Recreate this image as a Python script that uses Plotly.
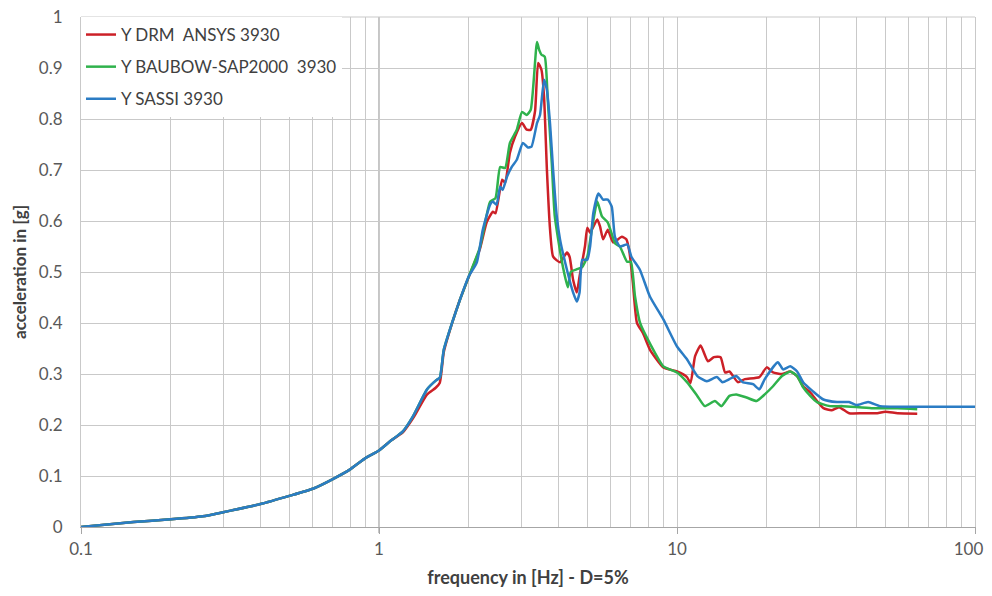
import plotly.graph_objects as go

# ---------------- data ----------------
freq_drm = [0.1, 0.15, 0.2, 0.256, 0.3, 0.4, 0.5, 0.6, 0.7, 0.8, 0.9, 1.0, 1.1, 1.2, 1.3, 1.45,
            1.55, 1.6, 1.65, 1.76, 1.87, 2.0, 2.18, 2.3, 2.41, 2.46, 2.59, 2.65, 2.75, 2.86,
            3.02, 3.13, 3.23, 3.34, 3.42, 3.51, 3.58, 3.66, 3.75, 3.84, 4.05, 4.27, 4.36,
            4.48, 4.61, 4.71, 4.91, 5.0, 5.11, 5.4, 5.52, 5.65, 5.86, 6.1, 6.53, 6.76, 6.93,
            7.11, 7.34, 7.69, 8.11, 9.0, 10.0, 10.8, 11.1, 11.5, 12.0, 12.7, 13.3, 14.0, 14.5,
            15.0, 16.0, 16.9, 18.9, 20.0, 21.0, 22.5, 24.0, 25.3, 26.5, 28.0, 29.5, 31.0,
            33.0, 35.0, 37.8, 42.0, 47.0, 50.0, 55.0, 64.0]
acc_drm = [0.0, 0.01, 0.015, 0.021, 0.029, 0.045, 0.061, 0.075, 0.094, 0.113, 0.135, 0.15, 0.17,
           0.185, 0.213, 0.26, 0.273, 0.283, 0.343, 0.40, 0.446, 0.49, 0.545, 0.598, 0.618,
           0.615, 0.681, 0.675, 0.734, 0.765, 0.792, 0.779, 0.779, 0.816, 0.91, 0.896, 0.843,
           0.70, 0.583, 0.53, 0.519, 0.538, 0.53, 0.485, 0.46, 0.491, 0.55, 0.587, 0.577,
           0.603, 0.589, 0.564, 0.583, 0.558, 0.569, 0.564, 0.538, 0.479, 0.40, 0.38, 0.348,
           0.313, 0.305, 0.294, 0.282, 0.335, 0.356, 0.325, 0.333, 0.333, 0.303, 0.305,
           0.284, 0.29, 0.294, 0.313, 0.303, 0.30, 0.305, 0.296, 0.276, 0.264, 0.247, 0.233,
           0.229, 0.235, 0.223, 0.223, 0.223, 0.226, 0.223, 0.222]

freq_baubow = [0.1, 0.15, 0.2, 0.256, 0.3, 0.4, 0.5, 0.6, 0.7, 0.8, 0.9, 1.0, 1.1, 1.2, 1.3, 1.45,
               1.55, 1.6, 1.65, 1.76, 1.87, 2.0, 2.18, 2.36, 2.46, 2.55, 2.65, 2.75, 2.9, 3.02,
               3.13, 3.23, 3.39, 3.45, 3.51, 3.6, 3.68, 3.8, 3.89, 4.11, 4.3, 4.4, 4.6, 4.81,
               5.0, 5.2, 5.4, 5.6, 5.86, 6.2, 6.43, 6.8, 7.0, 7.23, 7.52, 8.11, 9.0, 10.0, 10.8,
               11.7, 12.4, 13.4, 14.1, 15.0, 15.8, 17.1, 18.5, 19.7, 21.0, 22.5, 24.0, 25.3,
               26.5, 28.0, 29.5, 32.6, 36.0, 45.0, 55.0, 64.0]
acc_baubow = [0.0, 0.01, 0.015, 0.021, 0.029, 0.045, 0.061, 0.075, 0.094, 0.113, 0.135, 0.15,
              0.17, 0.187, 0.217, 0.27, 0.287, 0.293, 0.348, 0.401, 0.446, 0.491, 0.548, 0.638,
              0.645, 0.706, 0.704, 0.753, 0.779, 0.814, 0.808, 0.818, 0.951, 0.935, 0.926,
              0.922, 0.843, 0.714, 0.609, 0.52, 0.47, 0.50, 0.505, 0.51, 0.53, 0.59, 0.638,
              0.609, 0.597, 0.556, 0.55, 0.52, 0.52, 0.452, 0.40, 0.36, 0.315, 0.303, 0.284,
              0.257, 0.237, 0.247, 0.237, 0.257, 0.26, 0.254, 0.247, 0.26, 0.276, 0.296, 0.305,
              0.296, 0.274, 0.257, 0.245, 0.237, 0.237, 0.233, 0.233, 0.231]

freq_sassi = [0.1, 0.15, 0.2, 0.256, 0.3, 0.4, 0.5, 0.6, 0.7, 0.8, 0.9, 1.0, 1.1, 1.2, 1.3, 1.45,
              1.55, 1.6, 1.65, 1.76, 1.87, 2.0, 2.13, 2.23, 2.36, 2.41, 2.48, 2.55, 2.6, 2.69,
              2.79, 2.9, 3.04, 3.16, 3.25, 3.39, 3.47, 3.58, 3.66, 3.75, 3.84, 3.95, 4.05, 4.27,
              4.48, 4.61, 4.71, 4.81, 5.0, 5.11, 5.24, 5.45, 5.65, 5.86, 6.04, 6.19, 6.43, 6.81,
              7.03, 7.5, 8.11, 9.0, 10.0, 10.8, 11.7, 12.6, 13.6, 14.2, 15.0, 15.8, 16.6, 18.0,
              18.9, 19.7, 21.8, 22.7, 24.0, 25.3, 26.5, 28.6, 31.0, 34.4, 37.8, 40.0, 43.8,
              48.0, 60.0, 80.0, 100.0]
acc_sassi = [0.0, 0.01, 0.015, 0.021, 0.029, 0.045, 0.061, 0.075, 0.094, 0.113, 0.135, 0.15,
             0.17, 0.187, 0.217, 0.27, 0.287, 0.293, 0.348, 0.401, 0.446, 0.491, 0.519, 0.583,
             0.632, 0.638, 0.632, 0.667, 0.661, 0.687, 0.706, 0.72, 0.753, 0.744, 0.746, 0.792,
             0.808, 0.877, 0.857, 0.79, 0.70, 0.609, 0.564, 0.505, 0.46, 0.442, 0.46, 0.524,
             0.524, 0.55, 0.616, 0.654, 0.642, 0.642, 0.628, 0.569, 0.55, 0.554, 0.53, 0.505,
             0.452, 0.407, 0.354, 0.329, 0.296, 0.286, 0.294, 0.284, 0.29, 0.296, 0.284, 0.28,
             0.27, 0.29, 0.323, 0.309, 0.315, 0.305, 0.284, 0.266, 0.25, 0.245, 0.245, 0.239,
             0.245, 0.237, 0.236, 0.236, 0.236]

series_names = ["Y DRM\u00a0 ANSYS 3930", "Y BAUBOW-SAP2000\u00a0 3930", "Y SASSI 3930"]
series_colors = ["#cc2027", "#2fb24c", "#2b7cc4"]

x_major_ticks = [0.1, 1, 10, 100]
# trailing no-break spaces nudge the last label left so it stays inside the page
x_tick_labels = ["0.1", "1", "10", "100\u00a0\u00a0\u00a0"]
x_minor_ticks = [0.2, 0.3, 0.4, 0.5, 0.6, 0.7, 0.8, 0.9, 2, 3, 4, 5, 6, 7, 8, 9,
                 20, 30, 40, 50, 60, 70, 80, 90]

# ---------------- figure ----------------
fig = go.Figure()
for name, fx, ay, col in zip(series_names,
                             [freq_drm, freq_baubow, freq_sassi],
                             [acc_drm, acc_baubow, acc_sassi],
                             series_colors):
    fig.add_trace(go.Scatter(x=fx, y=ay, mode="lines", name=name, legendgroup=name,
                             line=dict(color=col, width=2.5, shape="spline", smoothing=0.5)))

grid = "#c9c9c9"
font_family = "Lato, 'Open Sans', sans-serif"
tick_color = "#595959"

# the page body has an 8px margin, so the figure is sized/offset to compensate
fig.update_layout(
    width=984, height=580,
    margin=dict(l=73, r=17, t=9, b=61),
    paper_bgcolor="white", plot_bgcolor="white",
    font=dict(family=font_family, color=tick_color, size=17),
    showlegend=True,
    legend=dict(x=0.0, y=1.0, xanchor="left", yanchor="top",
                bgcolor="white", borderwidth=0,
                font=dict(size=17, color="#404040", family=font_family),
                traceorder="grouped", tracegroupgap=7,
                itemwidth=30),
    xaxis=dict(type="log", range=[-1, 2], automargin=False,
               tickmode="array", tickvals=x_major_ticks, ticktext=x_tick_labels,
               ticklabeloverflow="allow",
               showgrid=True, gridcolor=grid, gridwidth=1,
               minor=dict(tickmode="array", tickvals=x_minor_ticks, showgrid=True,
                          gridcolor=grid, gridwidth=1, ticks=""),
               showline=True, linecolor="#a6a6a6", linewidth=1, mirror=False,
               ticks="outside", ticklen=6, tickcolor="#a6a6a6",
               ticklabelstandoff=1,
               zeroline=False,
               title=dict(text="frequency in [Hz] - D=5%", standoff=14,
                          font=dict(size=18, color="#404040", family=font_family,
                                    weight="bold"))),
    yaxis=dict(range=[0, 1], dtick=0.1, tick0=0, automargin=False,
               ticklabeloverflow="allow",
               showgrid=True, gridcolor=grid, gridwidth=1,
               showline=True, linecolor=grid, linewidth=1, mirror=True,
               zeroline=False, ticks="", ticklabelstandoff=14,
               title=dict(text="acceleration in [g]", standoff=7,
                          font=dict(size=17, color="#404040", family=font_family,
                                    weight="bold"))),
)

# vertical axis line crossing at 1 Hz (Excel style)
fig.add_shape(type="line", xref="x", yref="paper", x0=1, x1=1, y0=-0.012, y1=1,
              line=dict(color="#8c8c8c", width=1), layer="below")
# top border
fig.add_shape(type="line", xref="paper", yref="paper", x0=0, x1=1, y0=1, y1=1,
              line=dict(color=grid, width=1), layer="below")

fig.write_html("out.html")
